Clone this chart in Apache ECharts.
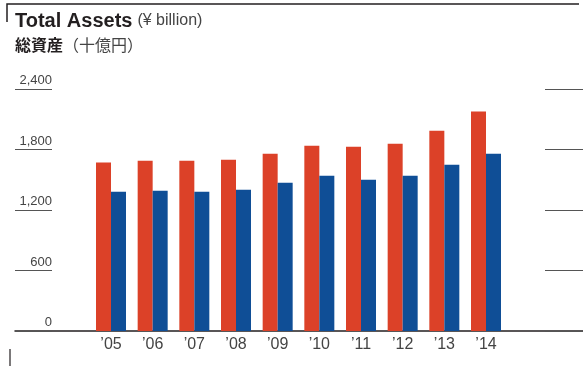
<!DOCTYPE html>
<html>
<head>
<meta charset="utf-8">
<script src="https://cdn.jsdelivr.net/npm/echarts@6/dist/echarts.min.js"></script>
<style>
  html, body { margin: 0; padding: 0; background: #fff; }
  #chart { width: 583px; height: 367px; }
</style>
</head>
<body>
<div id="chart"></div>
<script>
const years = [2005, 2006, 2007, 2008, 2009, 2010, 2011, 2012, 2013, 2014]
const yearLabels = ['’05', '’06', '’07', '’08', '’09', '’10', '’11', '’12', '’13', '’14']
// two series per year, red first then blue
const redValues = [1672, 1689, 1689, 1699, 1759, 1838, 1828, 1858, 1987, 2176]
const blueValues = [1381, 1391, 1381, 1401, 1471, 1540, 1501, 1540, 1650, 1759]
const yTicks = [0, 600, 1200, 1800, 2400]

const font = '"Liberation Sans", Arial, sans-serif'
const cjkFont = '"Noto Sans CJK JP", "Liberation Sans", sans-serif'

const chart = echarts.init(document.getElementById('chart'), null, { renderer: 'canvas' })

chart.setOption({
  animation: false,
  title: [
    {
      left: 15,
      top: 11,
      padding: 0,
      text: '{a|Total Assets} {b|(¥ billion)}',
      textStyle: {
        rich: {
          a: { fontFamily: font, fontSize: 20, fontWeight: 'bold', color: '#231f20' },
          b: { fontFamily: font, fontSize: 16, fontWeight: 'normal', color: '#444' },
        },
      },
    },
    {
      left: 15,
      top: 37,
      padding: 0,
      text: '{a|総資産}{b|（十億円）}',
      textStyle: {
        rich: {
          a: { fontFamily: cjkFont, fontSize: 16, fontWeight: 'bold', color: '#231f20' },
          b: { fontFamily: cjkFont, fontSize: 16, fontWeight: 'normal', color: '#444' },
        },
      },
    },
  ],
  grid: { left: 15, right: 0, top: 89, bottom: 36 },
  xAxis: {
    type: 'value',
    min: 2002.696,
    max: 2016.328,
    axisLine: { show: true, lineStyle: { color: '#231f20', width: 1.5 } },
    axisTick: { show: false },
    splitLine: { show: false },
    axisLabel: {
      customValues: years,
      margin: 6,
      fontFamily: font,
      fontSize: 16,
      color: '#444',
      formatter: (v) => yearLabels[years.indexOf(Math.round(v))],
    },
  },
  yAxis: [
    {
      type: 'value',
      position: 'left',
      min: 0,
      max: 2400,
      interval: 600,
      axisLine: { show: false },
      axisTick: { show: true, inside: true, length: 37, lineStyle: { color: '#555', width: 1.2 } },
      splitLine: { show: false },
      axisLabel: {
        inside: true,
        margin: 37,
        align: 'right',
        verticalAlign: 'bottom',
        padding: [0, 0, 2, 0],
        fontFamily: font,
        fontSize: 13,
        color: '#444',
        formatter: (v) => (yTicks.includes(v) ? v.toLocaleString('en-US') : ''),
      },
    },
    {
      type: 'value',
      position: 'right',
      min: 0,
      max: 2400,
      interval: 600,
      axisLine: { show: false },
      axisTick: { show: true, inside: true, length: 38, lineStyle: { color: '#555', width: 1.2 } },
      splitLine: { show: false },
      axisLabel: { show: false },
    },
  ],
  series: [
    {
      type: 'bar',
      barWidth: 15,
      barGap: '0%',
      itemStyle: { color: '#dc4128' },
      data: years.map((y, i) => [y, redValues[i]]),
    },
    {
      type: 'bar',
      barWidth: 15,
      barGap: '0%',
      itemStyle: { color: '#0f4e96' },
      data: years.map((y, i) => [y, blueValues[i]]),
    },
  ],
  graphic: [
    // frame marks from the page scan
    {
      type: 'polyline',
      shape: { points: [[7, 22], [7, 4], [579, 4]] },
      style: { fill: null, stroke: '#231f20', lineWidth: 1.5 },
    },
    {
      type: 'line',
      shape: { x1: 10, y1: 349, x2: 10, y2: 366 },
      style: { stroke: '#231f20', lineWidth: 1.2 },
    },
  ],
})

window.addEventListener('resize', () => chart.resize())
</script>
</body>
</html>
